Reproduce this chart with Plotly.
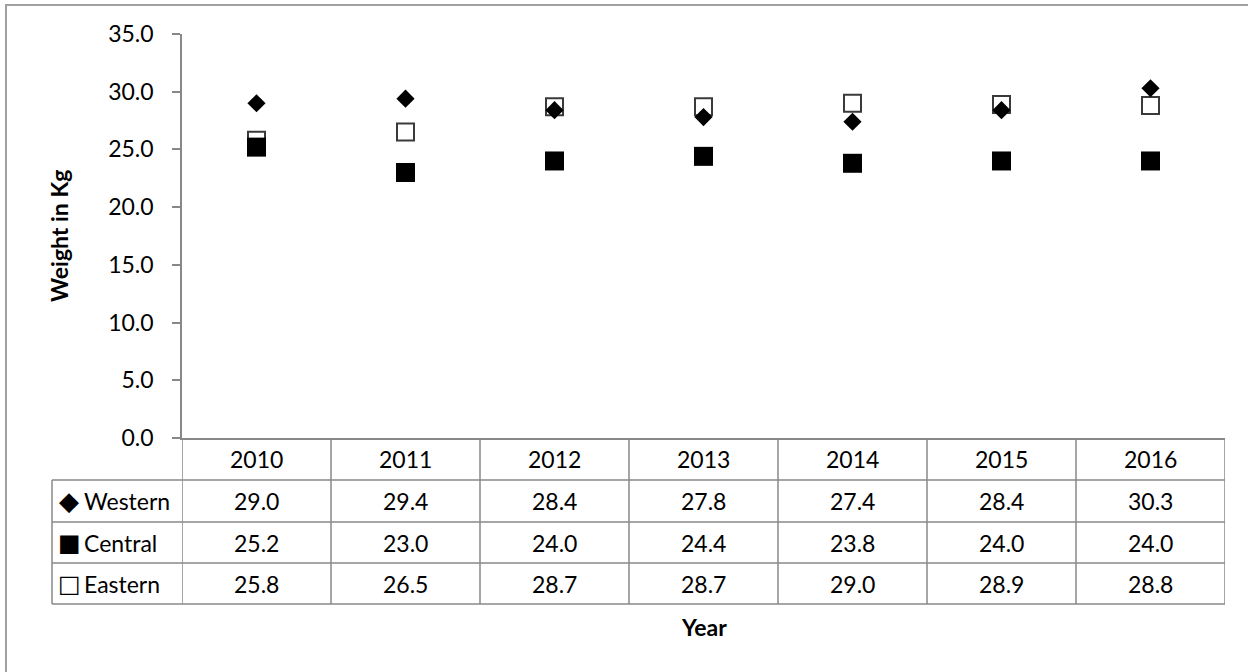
import plotly.graph_objects as go

years = [2010, 2011, 2012, 2013, 2014, 2015, 2016]
series_names = ["Western", "Central", "Eastern"]
western = [29.0, 29.4, 28.4, 27.8, 27.4, 28.4, 30.3]
central = [25.2, 23.0, 24.0, 24.4, 23.8, 24.0, 24.0]
eastern = [25.8, 26.5, 28.7, 28.7, 29.0, 28.9, 28.8]
legend_glyphs = ["\u25c6", "\u25a0", "\u25a1"]
y_title = "Weight in Kg"
x_title = "Year"

FIG_W, FIG_H = 1248, 672
# plot area in screen pixels: x 182..1225, y 34..438
L, R, T, B = 182, 1248 - 1225, 34, 672 - 438
PW, PH = FIG_W - L - R, FIG_H - T - B
FONT = "Lato, 'Open Sans', sans-serif"
GRID = "#888888"


def px_x(px):  # screen px -> paper
    return (px - L) / PW


def px_y(py):
    return (FIG_H - B - py) / PH


fig = go.Figure()

# draw order: Eastern (bottom), Central, Western (top)
fig.add_trace(go.Scatter(x=years, y=eastern, mode="markers", name="Eastern",
                         marker=dict(symbol="square", size=17, color="white",
                                     line=dict(color="#3a3a3a", width=2))))
fig.add_trace(go.Scatter(x=years, y=central, mode="markers", name="Central",
                         marker=dict(symbol="square", size=19, color="black",
                                     line=dict(width=0))))
fig.add_trace(go.Scatter(x=years, y=western, mode="markers", name="Western",
                         marker=dict(symbol="diamond", size=14, color="black",
                                     line=dict(width=0))))

table_left = 52
row_edges = [438, 480, 522, 563, 604]
shapes = []
annotations = []

# outer chart border (right/bottom cropped in reference)
shapes.append(dict(type="rect", xref="paper", yref="paper",
                   x0=px_x(6), x1=px_x(1400), y0=px_y(5), y1=px_y(800),
                   line=dict(color="#a0a0a0", width=2), layer="below"))

for ry in row_edges[1:]:
    shapes.append(dict(type="line", xref="paper", yref="paper",
                       x0=px_x(table_left), x1=1, y0=px_y(ry), y1=px_y(ry),
                       line=dict(color=GRID, width=1.5)))
for k in range(len(years) + 1):
    xb = years[0] - 0.5 + k
    shapes.append(dict(type="line", xref="x", yref="paper",
                       x0=xb, x1=xb, y0=0, y1=px_y(row_edges[-1]),
                       line=dict(color=GRID, width=1.5)))
shapes.append(dict(type="line", xref="paper", yref="paper",
                   x0=px_x(table_left), x1=px_x(table_left),
                   y0=px_y(row_edges[1]), y1=px_y(row_edges[-1]),
                   line=dict(color=GRID, width=1.5)))

txt_font = dict(family=FONT, size=23, color="black")

yc = px_y((row_edges[0] + row_edges[1]) / 2)
for yr in years:
    annotations.append(dict(x=yr, y=yc, xref="x", yref="paper", text=str(yr),
                            showarrow=False, font=txt_font,
                            xanchor="center", yanchor="middle"))

all_series = [western, central, eastern]
glyph_sizes = [26, 24, 24]
for i, (name, vals, glyph) in enumerate(zip(series_names, all_series, legend_glyphs)):
    yc = px_y((row_edges[i + 1] + row_edges[i + 2]) / 2)
    for yr, v in zip(years, vals):
        annotations.append(dict(x=yr, y=yc, xref="x", yref="paper", text=f"{v:.1f}",
                                showarrow=False, font=txt_font,
                                xanchor="center", yanchor="middle"))
    annotations.append(dict(x=px_x(69), y=yc, xref="paper", yref="paper", text=glyph,
                            showarrow=False,
                            font=dict(family="DejaVu Sans", size=glyph_sizes[i], color="black"),
                            xanchor="center", yanchor="middle"))
    annotations.append(dict(x=px_x(82), y=yc, xref="paper", yref="paper", text=name,
                            showarrow=False, font=txt_font,
                            xanchor="left", yanchor="middle"))

annotations.append(dict(x=0.5, y=px_y(627), xref="paper", yref="paper", text=f"<b>{x_title}</b>",
                        showarrow=False, font=txt_font, xanchor="center", yanchor="middle"))
annotations.append(dict(x=px_x(59), y=0.5, xref="paper", yref="paper", text=f"<b>{y_title}</b>",
                        showarrow=False, font=txt_font, textangle=-90,
                        xanchor="center", yanchor="middle"))

fig.update_layout(
    width=FIG_W, height=FIG_H,
    margin=dict(l=L, r=R, t=T, b=B, pad=0),
    paper_bgcolor="white", plot_bgcolor="white",
    showlegend=False,
    shapes=shapes, annotations=annotations,
    font=txt_font,
)
fig.update_xaxes(range=[years[0] - 0.5, years[-1] + 0.5], showgrid=False, zeroline=False,
                 showticklabels=False, ticks="", showline=True, linecolor=GRID, linewidth=1.5)
fig.update_yaxes(range=[0, 35], dtick=5, tickformat=".1f", showgrid=False, zeroline=False,
                 showline=True, linecolor=GRID, linewidth=1.5, ticks="outside", ticklen=8,
                 tickcolor=GRID, tickwidth=1.5, tickfont=txt_font, ticklabelstandoff=14)

fig.write_html("out.html", config={"displayModeBar": False},
               post_script="document.body.style.margin='0';document.body.style.overflow='hidden';")
